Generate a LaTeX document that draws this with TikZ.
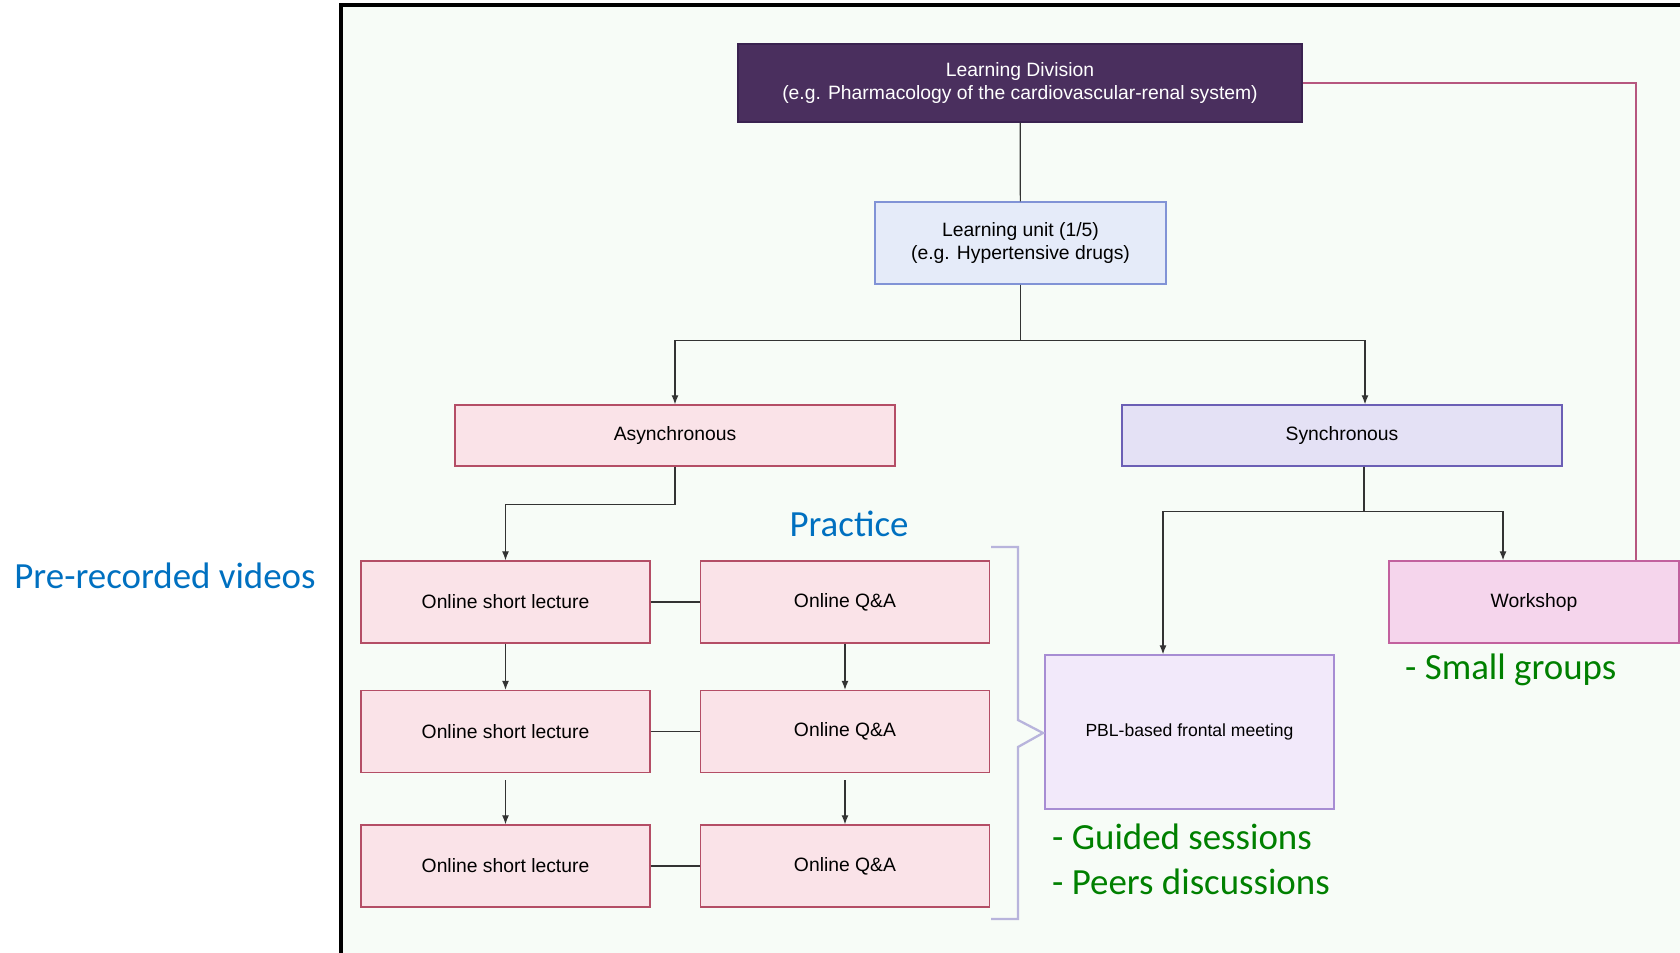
\documentclass[tikz,border=0pt]{standalone}
\usepackage{fontspec}
\setmainfont{Liberation Sans}
\newfontfamily\calibri{Carlito}
\usetikzlibrary{positioning,arrows.meta}

\definecolor{bgcol}{HTML}{F7FCF7}
\definecolor{divfill}{HTML}{4A2F5E}
\definecolor{divline}{HTML}{3A2250}
\definecolor{unitfill}{HTML}{E5EBF9}
\definecolor{unitline}{HTML}{8193D6}
\definecolor{asyncfill}{HTML}{FAE3E8}
\definecolor{asyncline}{HTML}{B44E66}
\definecolor{syncfill}{HTML}{E4E1F5}
\definecolor{syncline}{HTML}{6B5FB5}
\definecolor{pblfill}{HTML}{F2E9FA}
\definecolor{pblline}{HTML}{A78DD3}
\definecolor{workfill}{HTML}{F5D5EC}
\definecolor{workline}{HTML}{C2619E}
\definecolor{pinkline}{HTML}{B6577F}
\definecolor{linkgray}{HTML}{333333}
\definecolor{bracecol}{HTML}{B8B4DC}
\definecolor{noteblue}{HTML}{0070C0}
\definecolor{notegreen}{HTML}{008000}

\begin{document}
\begin{tikzpicture}[
                    x=0.02cm, y=-0.02cm,
                    >={Latex[length=0.18cm,width=0.14cm]},
                    box/.style={draw, rectangle, line width=0.8pt, align=center, font=\fontsize{11}{13}\selectfont},
                    pinkbox/.style={box, draw=asyncline, fill=asyncfill, minimum width=5.78cm, minimum height=1.64cm},
                    link/.style={draw=linkgray, line width=0.7pt},
                    note/.style={font=\calibri\fontsize{21}{25}\selectfont}
                    ]

                    \useasboundingbox (0,0) rectangle (1680,953);
                    \fill[bgcol] (341,5) rectangle (1680,953);
                    \draw[line width=2pt] (341,953) -- (341,5) -- (1680,5);

                    \node [box, draw=divline, fill=divfill, text=white, minimum width=11.28cm, minimum height=1.56cm] (division) at (1020,83) {Learning Division\\(e.g. Pharmacology of the cardiovascular-renal system)};
                    \node [box, draw=unitline, fill=unitfill, minimum width=5.82cm, minimum height=1.64cm] (unit) at (1020.5,243) {Learning unit (1/5)\\(e.g. Hypertensive drugs)};
                    \node [box, draw=asyncline, fill=asyncfill, minimum width=8.8cm, minimum height=1.22cm] (async) at (675,435.5) {Asynchronous};
                    \node [box, draw=syncline, fill=syncfill, minimum width=8.8cm, minimum height=1.22cm] (sync) at (1342,435.5) {Synchronous};

                    \node [pinkbox] (lecture1) at (505.5,602) {Online short lecture};
                    \node [pinkbox] (lecture2) at (505.5,731.5) {Online short lecture};
                    \node [pinkbox] (lecture3) at (505.5,866) {Online short lecture};
                    \node [pinkbox] (qa1) at (845,602) {Online Q\&A};
                    \node [pinkbox] (qa2) at (845,731.5) {Online Q\&A};
                    \node [pinkbox] (qa3) at (845,866) {Online Q\&A};

                    \node [box, draw=pblline, fill=pblfill, minimum width=5.78cm, minimum height=3.08cm, font=\fontsize{10}{12}\selectfont] (pbl) at (1189.5,732) {PBL-based frontal meeting};
                    \node [box, draw=workline, fill=workfill, minimum width=5.8cm, minimum height=1.64cm] (workshop) at (1534,602) {Workshop};

                    \node [note, text=noteblue] (videos) at (165,576) {Pre-recorded videos};
                    \node [note, text=noteblue] (practice) at (849,524) {Practice};
                    \node [note, text=notegreen, anchor=west] (small) at (1399,670) {- Small groups};
                    \node [note, text=notegreen, anchor=west] (guided) at (1046,837) {- Guided sessions};
                    \node [note, text=notegreen, anchor=west] (peers) at (1046,882) {- Peers discussions};

                    \coordinate (syncout) at ([xshift=0.44cm]sync.south);

                    \draw[link] (division) -- (unit);
                    \draw[link,->] (unit.south) -- ++(0,56) -| (async.north);
                    \draw[link,->] (unit.south) -- ++(0,56) -| ([xshift=0.46cm]sync.north);
                    \draw[link,->] (async.south) -- ++(0,38) -| (lecture1.north);
                    \draw[link,->] (syncout) -- ++(0,45) -| ([xshift=-0.53cm]pbl.north);
                    \draw[link,->] (syncout) -- ++(0,45) -| ([xshift=-0.62cm]workshop.north);
                    \draw[pinkline, line width=0.8pt] (division.east) -| ([xshift=2.04cm]workshop.north);

                    \draw[link] (lecture1) -- (qa1);
                    \draw[link] (lecture2) -- (qa2);
                    \draw[link] (lecture3) -- (qa3);
                    \draw[link,->] (lecture1) -- (lecture2);
                    \draw[link,->,shorten <=0.14cm] (lecture2) -- (lecture3);
                    \draw[link,->] (qa1) -- (qa2);
                    \draw[link,->,shorten <=0.14cm] (qa2) -- (qa3);

                    \draw[bracecol, line width=1.3pt] (991,547) -- (1018,547) -- (1018,720) -- (1043,733) -- (1018,747) -- (1018,919) -- (991,919);
                \end{tikzpicture}
\end{document}
